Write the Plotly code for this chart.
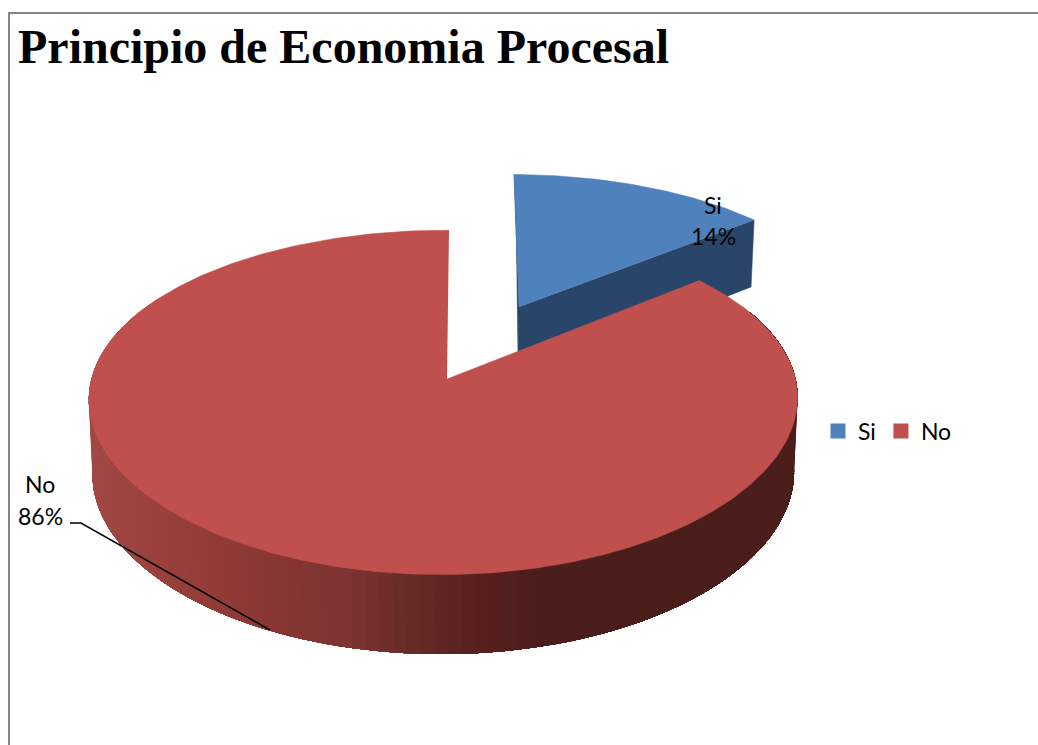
import numpy as np
import plotly.graph_objects as go

categories = ["Si", "No"]
values = [14, 86]
colors = ["#4F81BD", "#C0504D"]
wall_blue = "#29466A"
edge_blue = "#1F3A5C"
title_text = "Principio de Economia Procesal"

# projection of the tilted pie onto the page
AX, AY, RX, RY, C, CX, E, SKEW = 447.0, 379.0, 352.0, 169.0, 0.136, 0.115, 0.01, 2.0
EXPLODE = 0.5

def project(px, py, z=0.0):
    den = 1 + C * py + E * px
    denx = 1 + CX * py + E * px
    sx = AX + SKEW * py + RX * px / denx * (1 - 0.01 * z)
    sy = AY - RY * py / den + z * (73.5 - 6.0 * py)
    return sx, sy

def arc(a0, a1, n):
    t = np.radians(np.linspace(a0, a1, n))
    return np.sin(t), np.cos(t)

total = sum(values)
sweep = [v / total * 360 for v in values]
b0, b1 = 0.0, sweep[0]
r0, r1 = sweep[0], 360.0
mid = np.radians((b0 + b1) / 2)
ox, oy = EXPLODE * np.sin(mid), EXPLODE * np.cos(mid)

fig = go.Figure()

def poly(xs, ys, color, lw=0.0):
    fig.add_trace(go.Scatter(x=list(xs), y=list(ys), mode="lines", fill="toself",
                             fillcolor=color, line=dict(color=color, width=lw),
                             hoverinfo="skip", showlegend=False))

# exploded slice: walls then top
bx, by = arc(b0, b1, 60)
bx, by = bx + ox, by + oy
tipx, tipy = bx[-1], by[-1]
s0 = project(ox, oy, 0); s1 = project(tipx, tipy, 0)
s2 = project(tipx, tipy, 1); s3 = project(ox, oy, 1)
poly([s0[0], s1[0], s2[0], s3[0]], [s0[1], s1[1], s2[1], s3[1]], wall_blue, 0.5)
t0 = project(bx[0], by[0], 0); t1 = project(ox, oy, 1)
poly([t0[0], s0[0], t1[0], t0[0] + 2], [t0[1], s0[1], t1[1], t0[1] + 30], edge_blue, 0.5)
tx, ty = project(np.r_[ox, bx], np.r_[oy, by], 0)
poly(tx, ty, colors[0], 0.5)

# main slice: shaded outer wall, painted left to right, each band running on under the next
stops_x = [90, 180, 270, 340, 400, 470, 540, 800]
stops_c = [(163, 72, 68), (150, 62, 59), (136, 55, 52), (126, 52, 49),
           (104, 43, 40), (88, 33, 31), (75, 29, 27), (75, 29, 27)]
wx, wy = arc(300, 65, 118)
for i in range(0, len(wx) - 8):
    tops = project(wx[i:], wy[i:], 0)
    bots = project(wx[i:][::-1], wy[i:][::-1], 1)
    rgb = [int(np.interp(tops[0][0], stops_x, [s[k] for s in stops_c])) for k in range(3)]
    col = f"rgb({rgb[0]},{rgb[1]},{rgb[2]})"
    poly(np.r_[tops[0], bots[0]], np.r_[tops[1], bots[1]], col, 0.0)
rx, ry = arc(r0, r1, 300)
tx, ty = project(np.r_[0.0, rx], np.r_[0.0, ry], 0)
poly(tx, ty, colors[1], 0.5)

# leader line for the large slice's label
fig.add_trace(go.Scatter(x=[70, 81, 270], y=[523, 523, 630], mode="lines",
                         line=dict(color="#000000", width=1.6),
                         hoverinfo="skip", showlegend=False))

# legend entries
for name, col in zip(categories, colors):
    fig.add_trace(go.Scatter(x=[None], y=[None], mode="markers", name=name,
                             marker=dict(symbol="square", size=15, color=col)))

FONT = "Lato, Carlito, sans-serif"
annotations = []
label_pos = {"Si": (713, 205, 236), "No": (40, 484, 516)}
for name, val in zip(categories, values):
    x, y1, y2 = label_pos[name]
    annotations.append(dict(x=x, y=y1, text=name, showarrow=False, xanchor="center", yanchor="middle",
                            font=dict(family=FONT, size=23, color="#000000")))
    annotations.append(dict(x=x, y=y2, text=f"{round(val / total * 100)}%", showarrow=False,
                            xanchor="center", yanchor="middle",
                            font=dict(family=FONT, size=23, color="#000000")))

fig.update_layout(
    width=1038, height=745, autosize=False,
    margin=dict(l=0, r=0, t=0, b=0),
    paper_bgcolor="#FFFFFF", plot_bgcolor="#FFFFFF",
    title=dict(text="<b>" + title_text + "</b>", x=18 / 1038, xanchor="left", xref="paper",
               y=1 - 46 / 745, yanchor="middle", yref="container",
               font=dict(family="Liberation Serif", size=48, color="#000000")),
    xaxis=dict(range=[0, 1038], visible=False, fixedrange=True),
    yaxis=dict(range=[745, 0], visible=False, fixedrange=True),
    legend=dict(orientation="h", x=818 / 1038, y=1 - 431 / 745, xanchor="left", yanchor="middle",
                font=dict(family=FONT, size=23, color="#000000"), bgcolor="rgba(0,0,0,0)"),
    annotations=annotations,
    shapes=[dict(type="line", x0=9, x1=9, y0=13, y1=745, line=dict(color="#868686", width=2)),
            dict(type="line", x0=8, x1=1038, y0=13, y1=13, line=dict(color="#868686", width=2))],
)
fig.write_html("out.html", config={"displayModeBar": False},
               post_script="document.body.style.margin='0';document.documentElement.style.overflow='hidden';")
